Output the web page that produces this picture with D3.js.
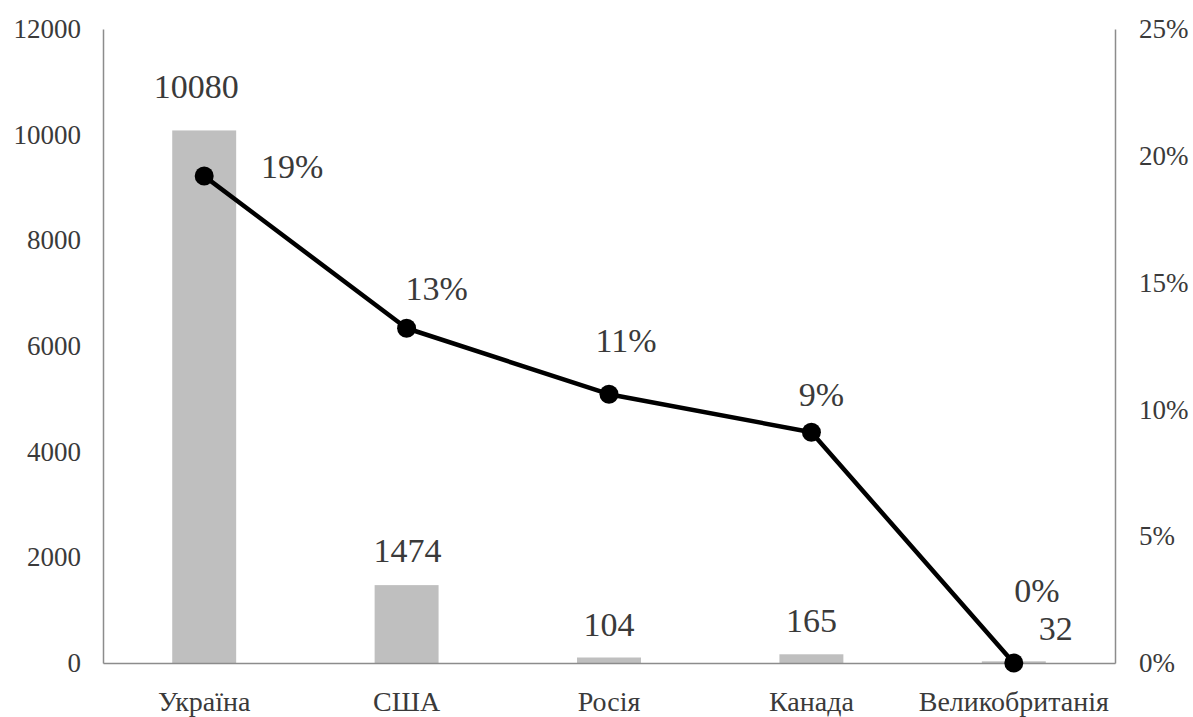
<!DOCTYPE html>
<html>
<head>
<meta charset="utf-8">
<script src="https://cdn.jsdelivr.net/npm/d3@7"></script>
<style>
  html, body { margin: 0; padding: 0; background: #fff; }
  svg { display: block; }
  svg text { font-family: "Liberation Serif", "Times New Roman", Tinos, "DejaVu Serif", serif; }
</style>
</head>
<body>
<svg id="chart" width="1193" height="717"></svg>
<script>
// ---- data ----
const categories = ["Україна", "США", "Росія", "Канада", "Великобританія"];
const counts = [10080, 1474, 104, 165, 32];
const shares = [0.192, 0.132, 0.106, 0.091, 0.0];
const leftTicks = [0, 2000, 4000, 6000, 8000, 10000, 12000];
const rightTicks = [0, 0.05, 0.10, 0.15, 0.20, 0.25];

// ---- label placement (layout only) ----
const countLabelOffsets = [[-8, -32], [1, -23], [0, -22], [0, -22], [42, -21]];
const shareLabelOffsets = [[88, 2], [30, -28], [17, -42], [10, -26], [23, -61]];

const W = 1193, H = 717;
const margin = { top: 29, right: 78, bottom: 54, left: 103 };
const innerW = W - margin.left - margin.right;
const innerH = H - margin.top - margin.bottom;

const svg = d3.select("#chart");
const g = svg.append("g").attr("transform", `translate(${margin.left},${margin.top})`);

const textColor = "#3a3a3a";
const axisColor = "#8c8c8c";

const x = d3.scaleBand().domain(categories).range([0, innerW])
  .paddingInner(0.684).paddingOuter(0.342);
const yL = d3.scaleLinear().domain([0, 12000]).range([innerH, 0]);
const yR = d3.scaleLinear().domain([0, 0.25]).range([innerH, 0]);

// bars
g.selectAll("rect.bar").data(counts).join("rect")
  .attr("class", "bar")
  .attr("x", (d, i) => x(categories[i]))
  .attr("width", x.bandwidth())
  .attr("y", d => yL(d))
  .attr("height", d => innerH - yL(d))
  .attr("fill", "#bfbfbf");

// axes
const axL = g.append("g").call(d3.axisLeft(yL).tickValues(leftTicks).tickSize(0).tickPadding(22).tickFormat(d3.format("d")));
const axR = g.append("g").attr("transform", `translate(${innerW},0)`)
  .call(d3.axisRight(yR).tickValues(rightTicks).tickSize(0).tickPadding(24).tickFormat(d3.format(".0%")));
const axB = g.append("g").attr("transform", `translate(0,${innerH})`)
  .call(d3.axisBottom(x).tickSize(0).tickPadding(0));

[axL, axR, axB].forEach(a => {
  a.attr("font-family", null);
  a.select(".domain").attr("stroke", axisColor).attr("stroke-width", 1.5);
  a.selectAll("text").attr("fill", textColor);
});
axL.selectAll("text").attr("font-size", 27);
axR.selectAll("text").attr("font-size", 27);
axB.selectAll("text").attr("font-size", 28).attr("dy", null).attr("y", 48);
[axL, axR, axB].forEach(a => a.attr("font-size", null));

// line
const cx = (i) => x(categories[i]) + x.bandwidth() / 2;
const line = d3.line().x((d, i) => cx(i)).y(d => yR(d));
g.append("path").datum(shares)
  .attr("d", line)
  .attr("fill", "none")
  .attr("stroke", "#000")
  .attr("stroke-width", 4.5)
  .attr("stroke-linejoin", "round");

g.selectAll("circle.pt").data(shares).join("circle")
  .attr("class", "pt")
  .attr("cx", (d, i) => cx(i))
  .attr("cy", d => yR(d))
  .attr("r", 9.5)
  .attr("fill", "#000");

// count labels
g.selectAll("text.cnt").data(counts).join("text")
  .attr("class", "cnt")
  .attr("x", (d, i) => cx(i) + countLabelOffsets[i][0])
  .attr("y", (d, i) => yL(d) + countLabelOffsets[i][1])
  .attr("text-anchor", "middle")
  .attr("font-size", 34)
  .attr("fill", textColor)
  .text(d => d3.format("d")(d));

// share labels
g.selectAll("text.shr").data(shares).join("text")
  .attr("class", "shr")
  .attr("x", (d, i) => cx(i) + shareLabelOffsets[i][0])
  .attr("y", (d, i) => yR(d) + shareLabelOffsets[i][1])
  .attr("text-anchor", "middle")
  .attr("font-size", 34)
  .attr("fill", textColor)
  .text(d => d3.format(".0%")(d));
</script>
</body>
</html>
